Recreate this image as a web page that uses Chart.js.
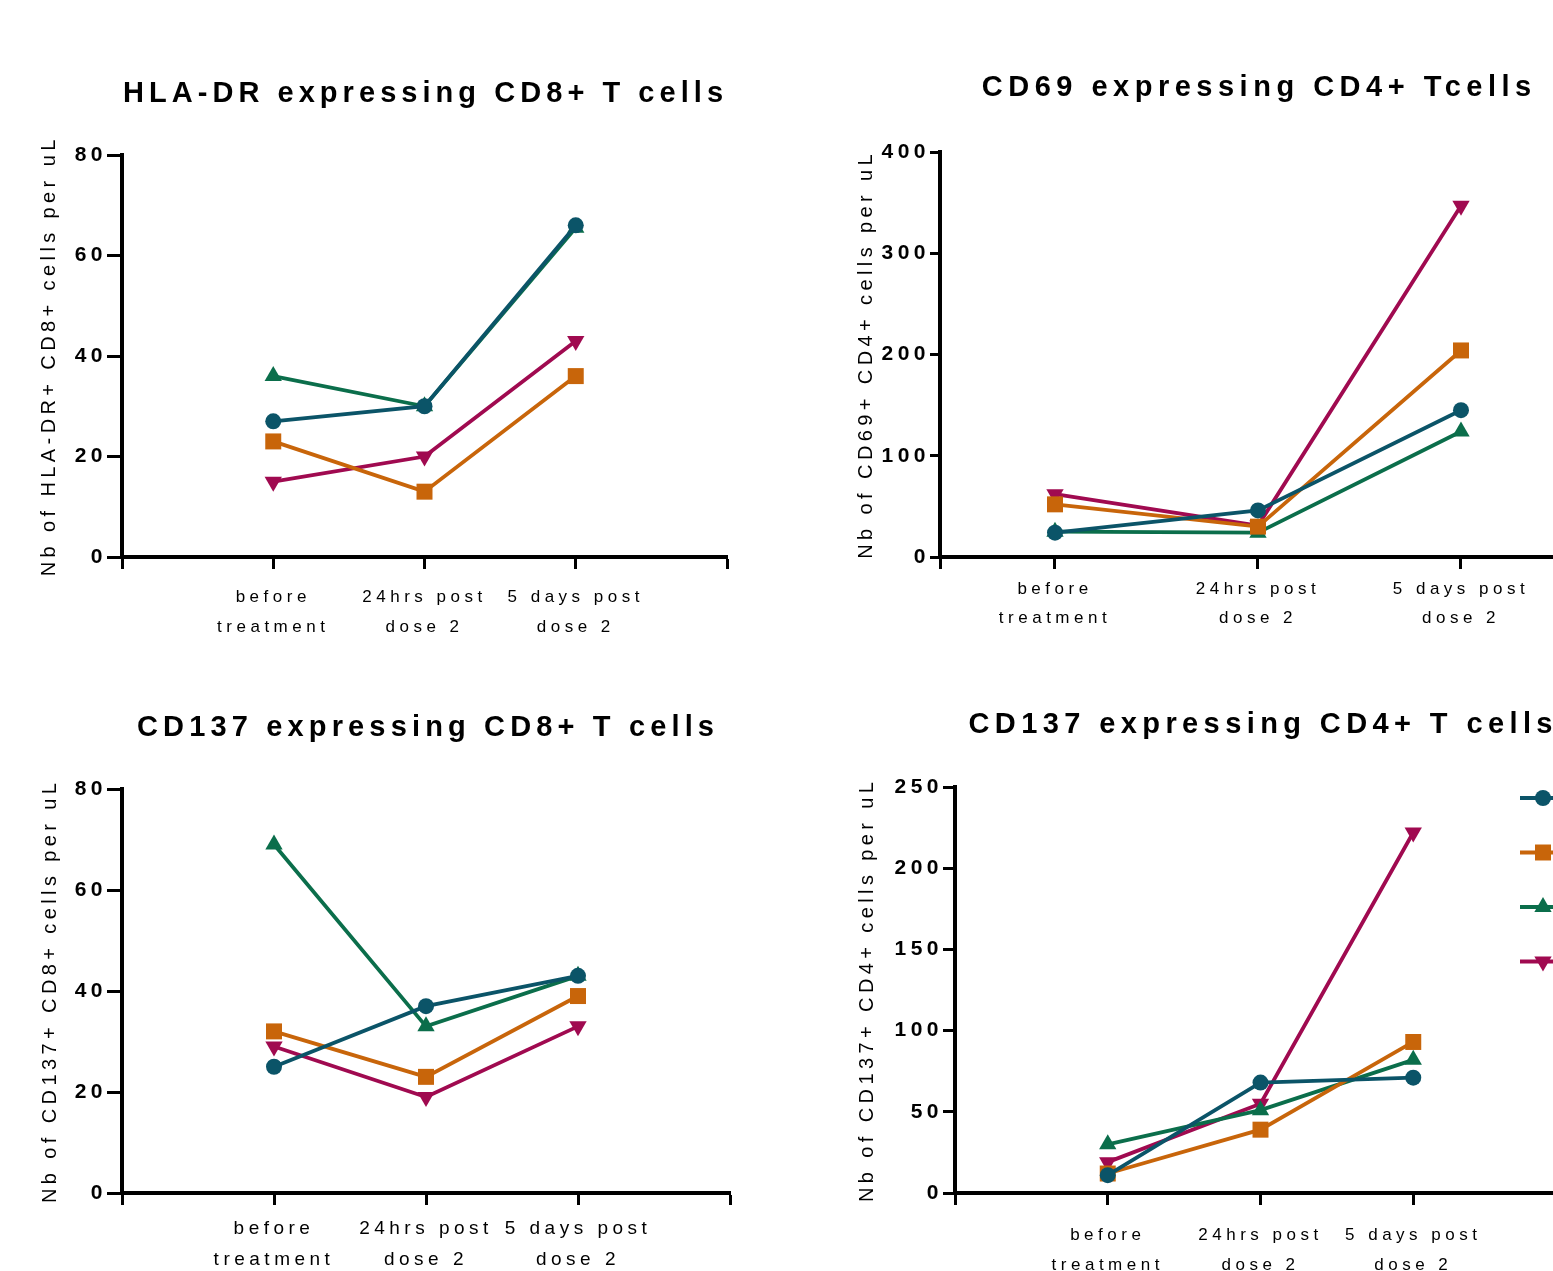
<!DOCTYPE html>
<html>
<head>
<meta charset="utf-8">
<title>Activation markers on T cells</title>
<script src="https://cdn.jsdelivr.net/npm/chart.js@4.4.0/dist/chart.umd.min.js"></script>
<style>
  html, body { margin: 0; padding: 0; background: #fff; }
  body { width: 1553px; height: 1271px; overflow: hidden; position: relative; }
  .panel { position: absolute; }
  canvas { display: block; }
</style>
</head>
<body>
<div class="panel" style="left:0;top:0"><canvas id="hlaDrCd8" width="780" height="660"></canvas></div>
<div class="panel" style="left:780px;top:0"><canvas id="cd69Cd4" width="900" height="660"></canvas></div>
<div class="panel" style="left:0;top:660px"><canvas id="cd137Cd8" width="780" height="611"></canvas></div>
<div class="panel" style="left:780px;top:660px"><canvas id="cd137Cd4" width="900" height="611"></canvas></div>
<script>
const FONT = '"Liberation Sans", Arial, sans-serif';

const categories = [['before', 'treatment'], ['24hrs post', 'dose 2'], ['5 days post', 'dose 2']];
const seriesLabels = ['Series 1', 'Series 2', 'Series 3', 'Series 4'];
const seriesColors = ['#0b5468', '#c8650a', '#0b6e4b', '#a00a50'];
const seriesMarkers = ['circle', 'rect', 'triangle', 'triangle'];
const markerRotation = [0, 0, 0, 180];
const markerRadius = [8, 11.3, 10, 10];

// Nb of cells per uL, one row per series, one column per category
const hlaDrCd8 = [[27, 30, 66], [23, 13, 36], [36, 30, 65.5], [15, 20, 43]];
const cd69Cd4 = [[24, 46, 145], [52, 30, 204], [25, 24, 124], [62, 31, 347]];
const cd137Cd8 = [[25, 37, 43], [32, 23, 39], [69, 33, 43], [29, 19, 33]];
const cd137Cd4 = [[11, 68, 71], [12, 39, 93], [30, 51, 82], [19, 55, 222]];

Chart.defaults.font.family = FONT;
Chart.defaults.color = '#000';

// titles, rotated y title and the marker-only legend
const panelText = {
  id: 'panelText',
  beforeDraw(chart) {
    chart.ctx.letterSpacing = '4.5px';
  },
  afterDraw(chart, args, opts) {
    const { ctx, chartArea, scales } = chart;
    ctx.save();
    ctx.fillStyle = '#000';
    ctx.letterSpacing = opts.titleLs + 'px';
    ctx.font = `bold 29px ${FONT}`;
    ctx.textAlign = 'center';
    ctx.textBaseline = 'alphabetic';
    ctx.fillText(opts.title, scales.x.getPixelForValue(1) + opts.titleLs / 2 + opts.titleDx, opts.titleY);

    ctx.font = `20px ${FONT}`;
    ctx.letterSpacing = '4.4px';
    ctx.translate(opts.yTitleX, (chartArea.top + chartArea.bottom) / 2 + 2);
    ctx.rotate(-Math.PI / 2);
    ctx.textBaseline = 'middle';
    ctx.fillText(opts.yTitle, 2.2, 0);
    ctx.restore();

    const lg = opts.legend;
    if (!lg) return;
    ctx.save();
    chart.data.datasets.forEach((ds, i) => {
      const y = lg.y + i * lg.dy;
      ctx.strokeStyle = ds.borderColor;
      ctx.lineWidth = 4;
      ctx.beginPath();
      ctx.moveTo(lg.x, y);
      ctx.lineTo(lg.x + lg.len + 12, y);
      ctx.stroke();
      ctx.fillStyle = ds.pointBackgroundColor;
      if (Chart.helpers && Chart.helpers.drawPoint) {
        Chart.helpers.drawPoint(ctx, {
          pointStyle: ds.pointStyle, rotation: ds.pointRotation,
          radius: ds.pointRadius, borderWidth: 0
        }, lg.x + lg.len, y);
      } else {
        ctx.beginPath();
        ctx.arc(lg.x + lg.len, y, 8, 0, Math.PI * 2);
        ctx.fill();
      }
    });
    ctx.restore();
  }
};

function makePanel(id, rows, cfg) {
  const datasets = rows.map((values, i) => ({
    label: seriesLabels[i],
    data: values.map((v, k) => ({ x: k, y: v })),
    borderColor: seriesColors[i],
    backgroundColor: seriesColors[i],
    pointBackgroundColor: seriesColors[i],
    pointStyle: seriesMarkers[i],
    pointRotation: markerRotation[i],
    pointRadius: markerRadius[i],
    pointBorderWidth: 0,
    borderWidth: 3.8,
    tension: 0,
    clip: false,
  }));

  return new Chart(document.getElementById(id), {
    type: 'line',
    data: { datasets },
    options: {
      responsive: false,
      animation: false,
      devicePixelRatio: 1,
      layout: { padding: { left: 0, top: cfg.top, right: cfg.right, bottom: 0 } },
      plugins: {
        legend: { display: false },
        tooltip: { enabled: false },
        panelText: {
          title: cfg.title, titleY: cfg.titleY, titleLs: cfg.titleLs, titleDx: cfg.titleDx,
          yTitle: cfg.yTitle, yTitleX: cfg.yTitleX,
          legend: cfg.legend,
        },
      },
      scales: {
        x: {
          type: 'linear',
          min: cfg.xMin,
          max: cfg.xMax,
          afterBuildTicks: (s) => {
            s.ticks = [cfg.xMin, 0, 1, 2, cfg.xMax].map((value) => ({ value }));
          },
          afterFit: (s) => { s.height = cfg.xHeight; },
          grid: { drawOnChartArea: false, color: '#000', tickLength: 12, tickWidth: 3 },
          border: { color: '#000', width: 4 },
          ticks: {
            color: '#000',
            autoSkip: false,
            maxRotation: 0,
            minRotation: 0,
            padding: cfg.labelPad,
            font: { size: cfg.labelSize, lineHeight: cfg.labelLine },
            callback: (v) => categories[v] ?? '',
          },
        },
        y: {
          min: 0,
          max: cfg.yMax,
          afterFit: (s) => { s.width = cfg.yWidth; },
          grid: { drawOnChartArea: false, color: '#000', tickLength: cfg.yTick, tickWidth: 3 },
          border: { color: '#000', width: 4 },
          ticks: {
            stepSize: cfg.yStep,
            color: '#000',
            padding: 0,
            font: { size: 21, weight: 'bold' },
          },
        },
      },
    },
    plugins: [panelText],
  });
}

makePanel('hlaDrCd8', hlaDrCd8, {
  title: 'HLA-DR expressing CD8+ T cells', titleY: 102, titleLs: 5.05, titleDx: -1.5,
  yTitle: 'Nb of HLA-DR+ CD8+ cells per uL', yTitleX: 49,
  top: 155, right: 53, yWidth: 122, xHeight: 103, yTick: 15,
  xMin: -1, xMax: 3, yMax: 80, yStep: 20,
  labelPad: 13.5, labelSize: 17, labelLine: 30 / 17,
});

makePanel('cd69Cd4', cd69Cd4, {
  title: 'CD69 expressing CD4+ Tcells', titleY: 96, titleLs: 5.5, titleDx: -1.5,
  yTitle: 'Nb of CD69+ CD4+ cells per uL', yTitleX: 86,
  top: 152, right: 40, yWidth: 160, xHeight: 103, yTick: 10,
  xMin: -0.5665, xMax: 2.8818, yMax: 400, yStep: 100,
  labelPad: 6, labelSize: 17, labelLine: 29 / 17,
});

makePanel('cd137Cd8', cd137Cd8, {
  title: 'CD137 expressing CD8+ T cells', titleY: 76, titleLs: 5.15, titleDx: -0.5,
  yTitle: 'Nb of CD137+ CD8+ cells per uL', yTitleX: 50,
  top: 129, right: 50, yWidth: 122, xHeight: 78, yTick: 15,
  xMin: -1, xMax: 3, yMax: 80, yStep: 20,
  labelPad: 8.5, labelSize: 19, labelLine: 31 / 19,
});

makePanel('cd137Cd4', cd137Cd4, {
  title: 'CD137 expressing CD4+ T cells', titleY: 73, titleLs: 5.4, titleDx: 0,
  yTitle: 'Nb of CD137+ CD4+ cells per uL', yTitleX: 87,
  top: 127, right: 114, yWidth: 175, xHeight: 78, yTick: 12,
  xMin: -1, xMax: 3, yMax: 250, yStep: 50,
  labelPad: 15.5, labelSize: 17, labelLine: 30 / 17,
  legend: { x: 740, len: 23, y: 138, dy: 54.5 },
});
</script>
</body>
</html>
